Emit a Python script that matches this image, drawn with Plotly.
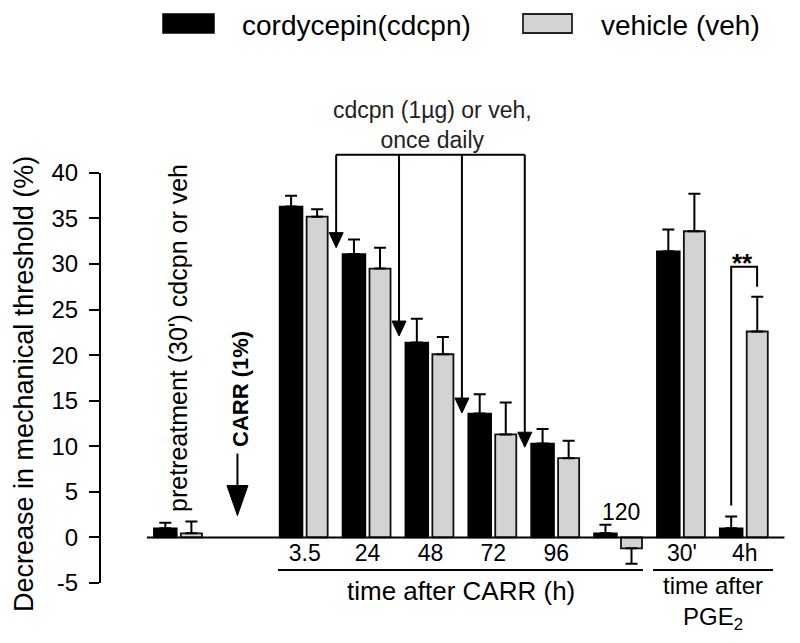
import plotly.graph_objects as go

# ---------------- data ----------------
categories = ["pre", "CARR", "3.5", "24", "48", "72", "96", "120", "30'", "4h"]
tick_labels = ["3.5", "24", "48", "72", "96", "30'", "4h"]
y_ticks = [-5, 0, 5, 10, 15, 20, 25, 30, 35, 40]

cdcpn_mean = [1.0, None, 36.3, 31.1, 21.4, 13.6, 10.3, 0.45, 31.4, 1.0]
cdcpn_sem = [0.6, None, 1.2, 1.6, 2.6, 2.1, 1.6, 0.95, 2.4, 1.3]
veh_mean = [0.45, None, 35.2, 29.5, 20.1, 11.3, 8.7, -1.2, 33.6, 22.6]
veh_sem = [1.3, None, 0.8, 2.3, 1.9, 3.5, 1.9, 1.7, 4.1, 3.8]

# arrows showing daily injections (x between groups, tip value)
daily_arrow_x = [2.5, 3.5, 4.5, 5.5]
daily_arrow_tip = [31.8, 22.1, 13.65, 9.9]

# ---------------- layout geometry ----------------
OFF = 8  # page body margin
W, H = 800 - 2 * OFF, 643 - 2 * OFF
ML, MT = 100 - OFF, 100 - OFF
MR = W - (792 - OFF)
MB = H - (583 - OFF)
XMIN, XMAX = -1.256, 9.75
YMIN, YMAX = -5, 48
PW, PH = W - ML - MR, H - MT - MB
FONT = "Liberation Sans, Arial, sans-serif"


def dx(x):
    return (x - XMIN) / (XMAX - XMIN)


def dy(y):
    return (y - YMIN) / (YMAX - YMIN)


def px_x(p):
    return (p - OFF - ML) / PW


def px_y(p):
    return (H - MB - (p - OFF)) / PH


def up_err(vals, errs):
    return [None if v is None else (e if v >= 0 else 0) for v, e in zip(vals, errs)]


def down_err(vals, errs):
    return [None if v is None else (e if v < 0 else 0) for v, e in zip(vals, errs)]


fig = go.Figure()
fig.add_trace(go.Bar(
    x=categories, y=cdcpn_mean, name="cordycepin(cdcpn)",
    offset=-0.40, width=0.366,
    marker=dict(color="#000000", line=dict(color="#000000", width=1.5)),
    error_y=dict(type="data", symmetric=False,
                 array=up_err(cdcpn_mean, cdcpn_sem),
                 arrayminus=down_err(cdcpn_mean, cdcpn_sem),
                 color="#000000", thickness=2, width=6),
    showlegend=False,
))
fig.add_trace(go.Bar(
    x=categories, y=veh_mean, name="vehicle (veh)",
    offset=0.03, width=0.335,
    marker=dict(color="#d3d3d3", line=dict(color="#111111", width=1.8)),
    error_y=dict(type="data", symmetric=False,
                 array=up_err(veh_mean, veh_sem),
                 arrayminus=down_err(veh_mean, veh_sem),
                 color="#000000", thickness=2, width=6),
    showlegend=False,
))

shapes = []
LINE = dict(color="#000000", width=2)

# y axis line (-5 .. 40)
shapes.append(dict(type="line", xref="paper", yref="paper", x0=0, x1=0,
                   y0=dy(-5), y1=dy(40), line=LINE))
# zero baseline
shapes.append(dict(type="line", xref="paper", yref="paper", x0=dx(-0.51), x1=dx(9.63),
                   y0=dy(0), y1=dy(0), line=LINE))
# underlines of group labels
shapes.append(dict(type="line", xref="paper", yref="paper", x0=px_x(278), x1=px_x(643),
                   y0=px_y(570), y1=px_y(570), line=LINE))
shapes.append(dict(type="line", xref="paper", yref="paper", x0=px_x(653), x1=px_x(773),
                   y0=px_y(570), y1=px_y(570), line=LINE))

# daily-injection bracket and arrows
bracket_y = 42.0
shapes.append(dict(type="line", xref="paper", yref="paper",
                   x0=dx(daily_arrow_x[0]), x1=dx(daily_arrow_x[-1]),
                   y0=dy(bracket_y), y1=dy(bracket_y), line=LINE))
xs = PW / (XMAX - XMIN)  # px per x unit
ys = PH / (YMAX - YMIN)  # px per y unit
for ax_, tip in zip(daily_arrow_x, daily_arrow_tip):
    head_h = 15 / ys
    half_w = 7 / xs
    shapes.append(dict(type="line", xref="paper", yref="paper", x0=dx(ax_), x1=dx(ax_),
                       y0=dy(bracket_y), y1=dy(tip + head_h), line=LINE))
    path = "M {} {} L {} {} L {} {} Z".format(
        dx(ax_ - half_w), dy(tip + head_h), dx(ax_ + half_w), dy(tip + head_h), dx(ax_), dy(tip))
    shapes.append(dict(type="path", xref="paper", yref="paper", path=path,
                       fillcolor="#000000", line=dict(color="#000000", width=1)))

# CARR arrow
carr_x, carr_top, carr_tip = 0.93, 9.2, 2.4
head_h = 30 / ys
half_w = 10.5 / xs
shapes.append(dict(type="line", xref="paper", yref="paper", x0=dx(carr_x), x1=dx(carr_x),
                   y0=dy(carr_top), y1=dy(carr_tip + head_h), line=LINE))
shapes.append(dict(type="path", xref="paper", yref="paper",
                   path="M {} {} L {} {} L {} {} Z".format(
                       dx(carr_x - half_w), dy(carr_tip + head_h),
                       dx(carr_x + half_w), dy(carr_tip + head_h),
                       dx(carr_x), dy(carr_tip)),
                   fillcolor="#000000", line=dict(color="#000000", width=1)))

# significance bracket at 4h
b_left, b_right = 8.783, 9.195
shapes.append(dict(type="path", xref="paper", yref="paper",
                   path="M {} {} L {} {} L {} {} L {} {}".format(
                       dx(b_left), dy(3.5), dx(b_left), dy(29.7),
                       dx(b_right), dy(29.7), dx(b_right), dy(27.5)),
                   line=LINE))

# legend swatches
shapes.append(dict(type="rect", xref="paper", yref="paper",
                   x0=px_x(163), x1=px_x(214), y0=px_y(33), y1=px_y(14),
                   fillcolor="#000000", line=dict(color="#000000", width=1.5)))
shapes.append(dict(type="rect", xref="paper", yref="paper",
                   x0=px_x(523), x1=px_x(572), y0=px_y(33), y1=px_y(14),
                   fillcolor="#d3d3d3", line=dict(color="#222222", width=1.8)))

ann = []


def text(x, y, t, size, angle=0, xanchor="center", bold=False, color="#000000"):
    ann.append(dict(xref="paper", yref="paper", x=x, y=y, text=("<b>%s</b>" % t) if bold else t,
                    showarrow=False, textangle=angle, xanchor=xanchor, yanchor="middle",
                    font=dict(family=FONT, size=size, color=color)))


text(px_x(240), px_y(25), "cordycepin(cdcpn)", 28, xanchor="left")
text(px_x(599), px_y(25), "vehicle (veh)", 28, xanchor="left")
text(px_x(24), px_y(384), "Decrease in mechanical threshold (%)", 27, angle=-90)
text(px_x(178), px_y(338), "pretreatment (30') cdcpn or veh", 25, angle=-90)
text(px_x(240), px_y(389), "CARR (1%)", 22, angle=-90, bold=True)
text(px_x(432), px_y(125), "cdcpn (1µg) or veh,<br>once daily", 23, color="#222222")
text(px_x(621), px_y(512), "120", 23)
text(px_x(461), px_y(591), "time after CARR (h)", 26)
text(px_x(713), px_y(603), "time after<br>PGE<sub>2</sub>", 24)
text(px_x(742), px_y(263), "**", 26, bold=True)

fig.update_layout(
    width=W, height=H,
    margin=dict(l=ML, r=MR, t=MT, b=MB, pad=0),
    paper_bgcolor="#ffffff", plot_bgcolor="#ffffff",
    barmode="overlay",
    showlegend=False,
    font=dict(family=FONT, color="#000000"),
    shapes=shapes, annotations=ann,
    xaxis=dict(type="category", categoryorder="array", categoryarray=categories,
               range=[XMIN, XMAX], anchor="free", position=dy(0),
               showline=False, showgrid=False, zeroline=False, ticks="",
               tickmode="array", tickvals=tick_labels, ticktext=tick_labels,
               tickfont=dict(family=FONT, size=23, color="#000000")),
    yaxis=dict(range=[YMIN, YMAX], tickmode="array", tickvals=y_ticks,
               ticktext=[str(v) for v in y_ticks],
               ticks="outside", ticklen=10, tickwidth=2, tickcolor="#000000",
               showline=False, showgrid=False, zeroline=False, ticklabelstandoff=6,
               tickfont=dict(family=FONT, size=24, color="#000000")),
)

fig.write_html("out.html")
